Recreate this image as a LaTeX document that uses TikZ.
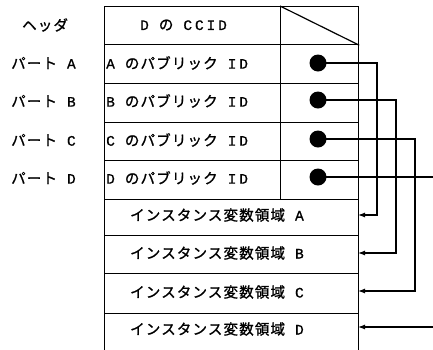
\documentclass[tikz,border=0pt]{standalone}
\usepackage{fontspec}
\setmainfont[LetterSpace=8,FakeBold=1.2]{Noto Sans CJK JP}
\newfontfamily\lat[LetterSpace=20,FakeBold=0.8]{Liberation Mono}
\newcommand{\gap}{\hspace{10pt}}
\usetikzlibrary{arrows.meta}
\begin{document}
\begin{tikzpicture}[x=1pt,y=-1pt,
  cell/.style={draw,line width=1.2pt,minimum height=#1,inner sep=0pt,anchor=north west},
  txt/.style={font=\fontsize{14.5}{16}\selectfont,inner sep=0pt,anchor=west},
  dot/.style={circle,fill=black,minimum size=17pt,inner sep=0pt},
  conn/.style={line width=1.2pt},
  arr/.style={line width=1.2pt,-{Latex[length=7pt,width=5pt]}}]
\useasboundingbox (0,0) rectangle (433,349);
% header
\node[cell=38pt,minimum width=176pt] (hL) at (104,6) {};
\node[cell=38pt,minimum width=78pt] (hR) at (280,6) {};
\draw[line width=1.2pt] (hR.north west) -- (hR.south east);
% rows
\node[cell=39pt,minimum width=176pt] (aL) at (104,44) {};
\node[cell=39pt,minimum width=78pt] (aR) at (280,44) {};
\node[cell=39pt,minimum width=176pt] (bL) at (104,83) {};
\node[cell=39pt,minimum width=78pt] (bR) at (280,83) {};
\node[cell=38pt,minimum width=176pt] (cL) at (104,122) {};
\node[cell=38pt,minimum width=78pt] (cR) at (280,122) {};
\node[cell=39pt,minimum width=176pt] (dL) at (104,160) {};
\node[cell=39pt,minimum width=78pt] (dR) at (280,160) {};
% instance areas
\node[cell=36pt,minimum width=254pt] (iA) at (104,199) {};
\node[cell=38pt,minimum width=254pt] (iB) at (104,235) {};
\node[cell=40pt,minimum width=254pt] (iC) at (104,273) {};
\node[cell=40pt,minimum width=254pt] (iD) at (104,313) {};
% texts
\node[txt] (tH) at (140,25) {{\lat D}\gap の\gap{\lat CCID}};
\node[txt] (tA) at (106,63) {{\lat A}\gap のパブリック\gap{\lat ID}};
\node[txt] (tB) at (106,101) {{\lat B}\gap のパブリック\gap{\lat ID}};
\node[txt] (tC) at (106,140) {{\lat C}\gap のパブリック\gap{\lat ID}};
\node[txt] (tD) at (106,178) {{\lat D}\gap のパブリック\gap{\lat ID}};
\node[txt] (tiA) at (130,215) {インスタンス変数領域\gap{\lat A}};
\node[txt] (tiB) at (130,253) {インスタンス変数領域\gap{\lat B}};
\node[txt] (tiC) at (130,292) {インスタンス変数領域\gap{\lat C}};
\node[txt] (tiD) at (130,329) {インスタンス変数領域\gap{\lat D}};
% left labels
\node[txt] (lH) at (22,25) {ヘッダ};
\node[txt] (lA) at (11,63) {パート\gap{\lat A}};
\node[txt] (lB) at (11,101) {パート\gap{\lat B}};
\node[txt] (lC) at (11,140) {パート\gap{\lat C}};
\node[txt] (lD) at (11,178) {パート\gap{\lat D}};
% dots
\node[dot] (pA) at (318,63) {};
\node[dot] (pB) at (318,100) {};
\node[dot] (pC) at (318,139) {};
\node[dot] (pD) at (318,177) {};
% connectors
\coordinate (eA) at (358,215);
\coordinate (eB) at (358,253);
\coordinate (eC) at (358,291);
\coordinate (eD) at (358,327);
\coordinate (outD) at (434,177);
\coordinate (inD) at (434,327);
\draw[arr] (pA.center) -| (377,215) -- (eA);
\draw[arr] (pB.center) -| (396,253) -- (eB);
\draw[arr] (pC.center) -| (415,291) -- (eC);
\draw[conn] (pD.center) -- (outD);
\draw[arr] (inD) -- (eD);
\end{tikzpicture}
\end{document}
